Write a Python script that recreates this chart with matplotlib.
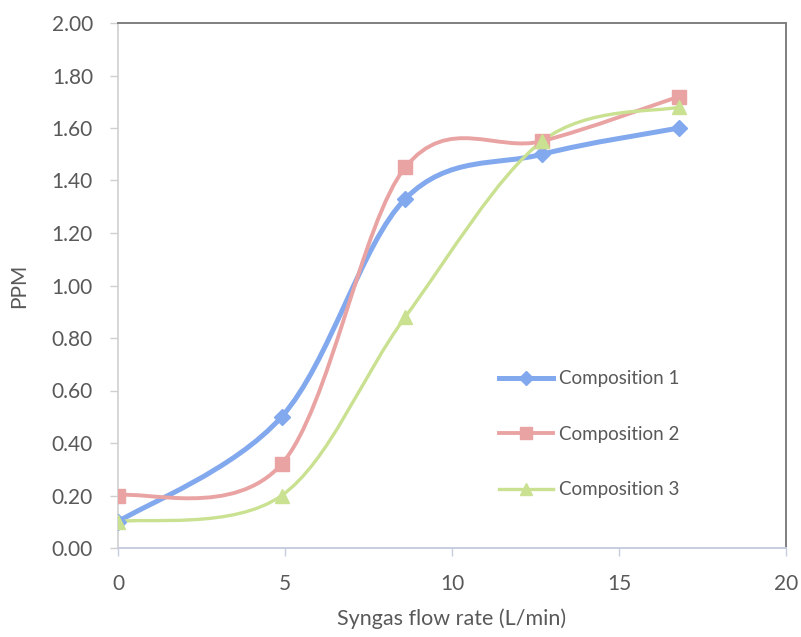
import numpy as np
import matplotlib
matplotlib.use("Agg")
import matplotlib.pyplot as plt
from matplotlib.path import Path
from matplotlib.patches import PathPatch

plt.rcParams['font.family'] = ['Lato', 'DejaVu Sans']

# Syngas flow rate (L/min) and measured PPM per composition
flow = [0.0, 4.9, 8.6, 12.7, 16.8]
comp1 = [0.10, 0.50, 1.33, 1.50, 1.60]
comp2 = [0.20, 0.32, 1.45, 1.55, 1.72]
comp3 = [0.10, 0.20, 0.88, 1.55, 1.68]

series = [
    ("Composition 1", comp1, "#82a8ee", 3.6, "D", 8),
    ("Composition 2", comp2, "#e9a3a3", 2.8, "s", 10),
    ("Composition 3", comp3, "#c9e190", 2.4, "^", 10),
]

TEXT = "#595959"


def smooth_path(x, y):
    """Catmull-Rom style cubic Bezier through the points (spreadsheet 'smoothed line')."""
    pts = np.column_stack([x, y]).astype(float)
    n = len(pts)
    verts = [pts[0]]
    codes = [Path.MOVETO]
    for i in range(n - 1):
        p0 = pts[i - 1] if i > 0 else pts[i]
        p1 = pts[i]
        p2 = pts[i + 1]
        p3 = pts[i + 2] if i + 2 < n else pts[i + 1]
        c1 = p1 + (p2 - p0) / 6.0
        c2 = p2 - (p3 - p1) / 6.0
        verts += [c1, c2, p2]
        codes += [Path.CURVE4] * 3
    return Path(verts, codes)


fig = plt.figure(figsize=(8.01, 6.37), dpi=100)
ax = fig.add_axes([118 / 801, 89 / 637, (786 - 118) / 801, (548 - 23) / 637])

for label, vals, color, lw, mk, ms in series:
    patch = PathPatch(smooth_path(flow, vals), facecolor="none", edgecolor=color,
                      lw=lw, capstyle="round", zorder=2)
    ax.add_patch(patch)
    ax.plot(flow, vals, linestyle="none", marker=mk, markersize=ms,
            color=color, markeredgecolor=color, zorder=3)
    ax.plot([], [], color=color, lw=lw, marker=mk, markersize=ms - 1, label=label)

ax.set_xlim(0, 20)
ax.set_ylim(0, 2.0)
ax.set_xticks([0, 5, 10, 15, 20])
ax.set_yticks(np.arange(0, 2.01, 0.2))
ax.set_yticklabels([f"{v:.2f}" for v in np.arange(0, 2.01, 0.2)])

ax.tick_params(axis="both", labelsize=15, colors=TEXT, length=6, width=1)
ax.tick_params(axis="y", color="#cfcfcf", pad=12)
ax.tick_params(axis="x", color="#c8cce0", pad=13)

ax.spines["top"].set_color("#7f7f7f")
ax.spines["right"].set_color("#7f7f7f")
ax.spines["top"].set_linewidth(1.4)
ax.spines["right"].set_linewidth(1.4)
ax.spines["left"].set_color("#d0d0d0")
ax.spines["bottom"].set_color("#c8cce0")
ax.spines["left"].set_linewidth(1.2)
ax.spines["bottom"].set_linewidth(1.4)

ax.set_xlabel("Syngas flow rate (L/min)", fontsize=15.5, color=TEXT, labelpad=10)
ax.set_ylabel("PPM", fontsize=15, color=TEXT)
ax.yaxis.set_label_coords(-0.133, 0.5)

leg = ax.legend(loc="upper left", bbox_to_anchor=(0.557, 0.356), frameon=False,
                fontsize=13.5, handlelength=2.85, handletextpad=0.3,
                labelspacing=2.05, borderpad=0)
for t in leg.get_texts():
    t.set_color(TEXT)

fig.savefig("out.png", dpi=100)
